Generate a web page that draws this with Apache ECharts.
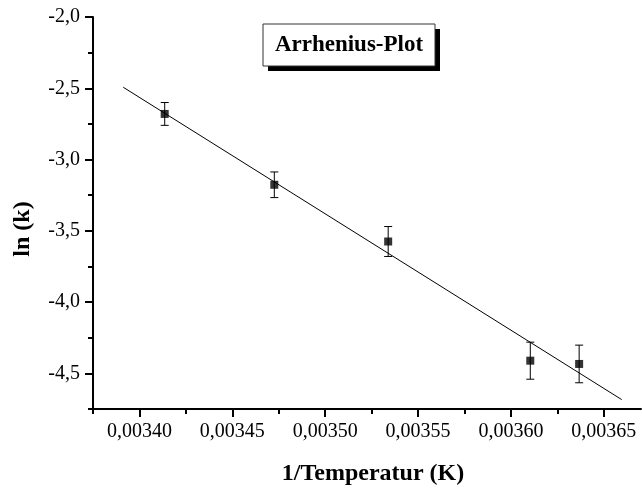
<!DOCTYPE html>
<html>
<head>
<meta charset="utf-8">
<title>Arrhenius-Plot</title>
<script src="https://cdn.jsdelivr.net/npm/echarts@6/dist/echarts.min.js"></script>
<style>
  html, body { margin: 0; padding: 0; background: #fff; }
  #chart { width: 642px; height: 488px; }
</style>
</head>
<body>
<div id="chart"></div>
<script>
// Measured points: 1/T (1/K), ln(k) and its error
const invTemp = [0.0034136, 0.0034726, 0.0035339, 0.0036104, 0.0036367];
const lnK     = [-2.680, -3.177, -3.575, -4.411, -4.434];
const lnKErr  = [0.080, 0.090, 0.105, 0.130, 0.132];

// Linear fit, drawn between its two end points
const fitX = [0.0033913, 0.0036596];
const fitY = [-2.493, -4.684];

// Axis ranges and tick values
const xMin = 0.003375, xMax = 0.00367;
const yMin = -4.75, yMax = -2.0;
const xMajorTicks = [0.00340, 0.00345, 0.00350, 0.00355, 0.00360, 0.00365];
const xMinorTicks = [0.003375, 0.003425, 0.003475, 0.003525, 0.003575, 0.003625];
const yMajorTicks = [-2.0, -2.5, -3.0, -3.5, -4.0, -4.5];
const yMinorTicks = [-2.25, -2.75, -3.25, -3.75, -4.25, -4.75];

const FONT = '"Liberation Serif", "Times New Roman", serif';
const points = invTemp.map((x, i) => [x, lnK[i]]);
const errData = invTemp.map((x, i) => [x, lnK[i] - lnKErr[i], lnK[i] + lnKErr[i]]);
const fitData = fitX.map((x, i) => [x, fitY[i]]);

const commaFmt = d => v => v.toFixed(d).replace('.', ',');

const chart = echarts.init(document.getElementById('chart'), null, { renderer: 'canvas' });

chart.setOption({
  animation: false,
  backgroundColor: '#fff',
  grid: { left: 93, top: 17, width: 548, height: 392, containLabel: false, outerBoundsMode: 'none' },
  graphic: [
    { type: 'rect', shape: { x: 268, y: 29, width: 172, height: 42 }, style: { fill: '#000' }, z: 10 },
    { type: 'rect', shape: { x: 263, y: 24, width: 172, height: 42 }, style: { fill: '#fff', stroke: '#333', lineWidth: 1 }, z: 11 },
    { type: 'text', x: 349, y: 45, z: 12,
      style: { text: 'Arrhenius-Plot', font: 'bold 23px ' + FONT, fill: '#000', align: 'center', verticalAlign: 'middle' } }
  ],
  xAxis: [
    {
      type: 'value', min: xMin, max: xMax, position: 'bottom',
      name: '1/Temperatur (K)', nameLocation: 'middle', nameGap: 53,
      nameTextStyle: { fontFamily: FONT, fontWeight: 'bold', fontSize: 24, color: '#000', padding: [0, 0, 0, 12] },
      axisLine: { show: true, lineStyle: { color: '#000', width: 2 } },
      axisTick: { show: true, length: 8, lineStyle: { color: '#000', width: 2 }, customValues: xMajorTicks },
      axisLabel: { show: true, margin: 13, fontFamily: FONT, fontSize: 20, color: '#000',
        customValues: xMajorTicks, formatter: commaFmt(5) },
      splitLine: { show: false }
    },
    {
      type: 'value', min: xMin, max: xMax, position: 'bottom',
      axisLine: { show: false },
      axisTick: { show: true, length: 5, lineStyle: { color: '#000', width: 2 }, customValues: xMinorTicks },
      axisLabel: { show: false },
      splitLine: { show: false }
    }
  ],
  yAxis: [
    {
      type: 'value', min: yMin, max: yMax, position: 'left',
      name: 'ln (k)', nameLocation: 'middle', nameGap: 58, nameRotate: 90,
      nameTextStyle: { fontFamily: FONT, fontWeight: 'bold', fontSize: 24, color: '#000', padding: [0, 0, 0, -32] },
      axisLine: { show: true, lineStyle: { color: '#000', width: 2 } },
      axisTick: { show: true, length: 8, lineStyle: { color: '#000', width: 2 }, customValues: yMajorTicks },
      axisLabel: { show: true, margin: 13, fontFamily: FONT, fontSize: 20, color: '#000',
        customValues: yMajorTicks, formatter: commaFmt(1) },
      splitLine: { show: false }
    },
    {
      type: 'value', min: yMin, max: yMax, position: 'left',
      axisLine: { show: false },
      axisTick: { show: true, length: 5, lineStyle: { color: '#000', width: 2 }, customValues: yMinorTicks },
      axisLabel: { show: false },
      splitLine: { show: false }
    }
  ],
  series: [
    {
      type: 'line', data: fitData, showSymbol: false, symbol: 'none',
      lineStyle: { color: '#000', width: 1 }, z: 2, silent: true
    },
    {
      type: 'custom', data: errData, z: 3,
      encode: { x: 0, y: [1, 2] },
      renderItem: function (params, api) {
        const x = api.value(0);
        const lo = api.coord([x, api.value(1)]);
        const hi = api.coord([x, api.value(2)]);
        const cap = 4;
        const s = { stroke: '#000', lineWidth: 1 };
        return {
          type: 'group',
          children: [
            { type: 'line', shape: { x1: lo[0], y1: lo[1], x2: hi[0], y2: hi[1] }, style: s },
            { type: 'line', shape: { x1: lo[0] - cap, y1: lo[1], x2: lo[0] + cap, y2: lo[1] }, style: s },
            { type: 'line', shape: { x1: hi[0] - cap, y1: hi[1], x2: hi[0] + cap, y2: hi[1] }, style: s }
          ]
        };
      }
    },
    {
      type: 'scatter', data: points, symbol: 'rect', symbolSize: 8,
      itemStyle: { color: '#000' }, z: 4
    }
  ]
});
</script>
</body>
</html>
